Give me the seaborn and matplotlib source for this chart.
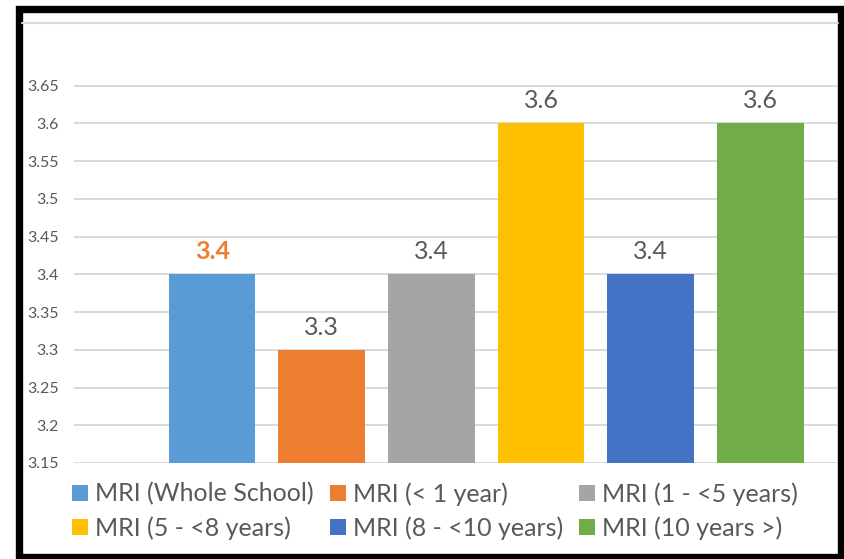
import matplotlib.pyplot as plt
import pandas as pd
import seaborn as sns
from matplotlib.patches import Patch, Rectangle
from matplotlib.lines import Line2D

# values
groups = [
    "MRI (Whole School)",
    "MRI (< 1 year)",
    "MRI (1 - <5 years)",
    "MRI (5 - <8 years)",
    "MRI (8 - <10 years)",
    "MRI (10 years >)",
]
scores = [3.4, 3.3, 3.4, 3.6, 3.4, 3.6]
colors = ["#5B9BD5", "#ED7D31", "#A5A5A5", "#FFC000", "#4472C4", "#70AD47"]
y_ticks = [3.15, 3.2, 3.25, 3.3, 3.35, 3.4, 3.45, 3.5, 3.55, 3.6, 3.65]

TEXT = "#595959"

sns.set_theme(style="white")
plt.rcParams["font.family"] = ["Lato", "DejaVu Sans"]

df = pd.DataFrame({"group": groups, "score": scores})

fig = plt.figure(figsize=(8.45, 5.59), dpi=100)
ax = fig.add_axes([74 / 845, 1 - 463 / 559, (837 - 74) / 845, (463 - 48) / 559])

sns.barplot(data=df, x="group", y="score", hue="group", palette=colors,
            order=groups, hue_order=groups, dodge=False, width=0.79,
            saturation=1, legend=False, linewidth=0, ax=ax, zorder=3)

ax.set_ylim(3.15, 3.7)
ax.set_xlim(-1.26, 5.70)
ax.set_yticks(y_ticks)
ax.set_yticklabels([f"{t:g}" for t in y_ticks])
ax.set_xticks([])
ax.set_xlabel("")
ax.set_ylabel("")
for s in ax.spines.values():
    s.set_visible(False)
ax.tick_params(axis="y", length=0, pad=11, labelsize=11.5, labelcolor=TEXT)
ax.yaxis.grid(True, color="#D9D9D9", linewidth=1.4, zorder=0)
ax.set_axisbelow(True)

# data labels
for i, v in enumerate(scores):
    first = i == 0
    ax.annotate(f"{v:g}", (i, v), xytext=(0, 8), textcoords="offset points",
                ha="center", va="bottom", fontsize=18,
                color="#ED7D31" if first else TEXT,
                fontweight="bold" if first else "normal")

# legend in row order (matplotlib fills columns first)
handles = [Patch(facecolor=c, edgecolor="none") for c in colors]
order = [0, 3, 1, 4, 2, 5]
fig.legend([handles[k] for k in order], [groups[k] for k in order],
           ncol=3, loc="upper left", bbox_to_anchor=(72 / 845, 1 - 482 / 559),
           frameon=False, fontsize=18, labelcolor=TEXT,
           handlelength=0.64, handleheight=0.64, handletextpad=0.3,
           columnspacing=0.62, labelspacing=0.42, borderpad=0, borderaxespad=0)

# thin rule near the top and the black frame around the picture
fig.add_artist(Line2D([22 / 845, 838 / 845], [1 - 23 / 559, 1 - 23 / 559],
                      transform=fig.transFigure, color="#D9D9D9", linewidth=1.5))
fig.add_artist(Rectangle((18.5 / 845, 1 - 556.5 / 559), (841.5 - 18.5) / 845,
                         (556.5 - 9) / 559, transform=fig.transFigure,
                         fill=False, edgecolor="black", linewidth=5.3))

fig.savefig("out.png", dpi=100)
